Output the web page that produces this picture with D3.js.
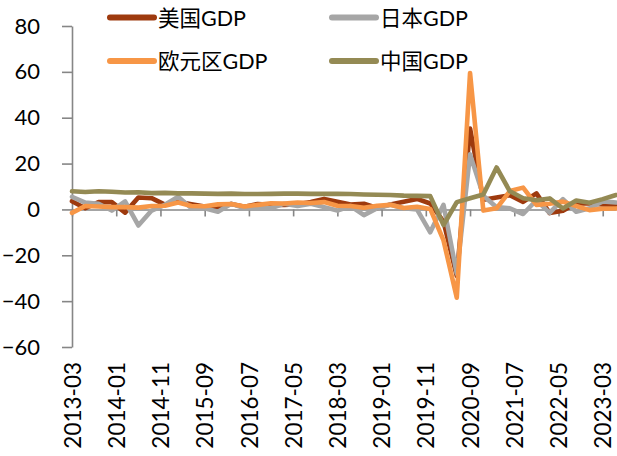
<!DOCTYPE html>
<html><head><meta charset="utf-8">
<script src="https://cdn.jsdelivr.net/npm/d3@7"></script>
<style>
html,body{margin:0;padding:0;background:#fff;overflow:hidden}
text{font-family:Lato,"Noto Sans CJK SC",sans-serif;fill:#000}
</style></head><body>
<svg id="c" width="617" height="456"></svg>
<script>
const dates = [
 "2013-03","2013-06","2013-09","2013-12","2014-03","2014-06","2014-09","2014-12",
 "2015-03","2015-06","2015-09","2015-12","2016-03","2016-06","2016-09","2016-12",
 "2017-03","2017-06","2017-09","2017-12","2018-03","2018-06","2018-09","2018-12",
 "2019-03","2019-06","2019-09","2019-12","2020-03","2020-06","2020-09","2020-12",
 "2021-03","2021-06","2021-09","2021-12","2022-03","2022-06","2022-09","2022-12",
 "2023-03","2023-06"];
const usGDP = [3.6,0.5,3.2,3.2, -1.4,5.2,4.9,2.1, 3.3,2.3,1.3,0.6, 2.4,1.2,2.4,2.0,
 2.0,2.3,3.2,4.6, 3.3,2.1,2.5,0.6, 2.2,3.4,4.6,2.6, -5.3,-29.0,35.3,4.2,
 5.2,6.2,3.3,7.0, -1.6,-0.6,2.7,2.6, 2.2,2.1];
const japanGDP = [5.5,3.0,2.5,-0.5, 3.5,-7.0,-0.5,2.0, 5.5,0.5,0.5,-1.0, 2.5,0.5,0.5,0.5,
 2.5,1.5,2.5,1.0, -0.5,1.5,-2.5,0.5, 2.0,0.5,0.0,-10.0, 2.0,-28.0,24.0,6.0,
 1.0,0.5,-2.0,4.0, -1.5,4.5,-1.0,0.5, 3.5,3.0];
const euroGDP = [-1.5,1.5,1.3,1.0, 1.0,0.8,1.5,1.6, 3.0,1.5,1.4,2.2, 2.4,1.3,2.0,2.7,
 2.6,3.0,2.8,3.2, 1.6,1.5,0.7,1.6, 2.0,0.6,1.2,0.2, -13.5,-38.5,59.5,-0.5,
 0.5,8.0,9.5,2.0, 2.5,3.4,1.5,-0.3, 0.3,0.4];
const chinaGDP = [7.9,7.6,7.9,7.7, 7.4,7.5,7.1,7.2, 7.0,7.0,6.9,6.8, 6.9,6.7,6.7,6.8,
 6.9,6.9,6.8,6.8, 6.8,6.7,6.5,6.4, 6.3,6.0,5.9,5.8, -6.8,3.2,4.9,6.5,
 18.3,7.9,4.9,4.0, 4.8,0.4,3.9,2.9, 4.5,6.3];
const seriesNames = ["美国GDP","日本GDP","欧元区GDP","中国GDP"];
const seriesColors = ["#9E3A0E","#A6A6A6","#F79646","#948A54"];
const xTickLabels = ["2013-03","2014-01","2014-11","2015-09","2016-07","2017-05","2018-03",
 "2019-01","2019-11","2020-09","2021-07","2022-05","2023-03"];
const yTicks = [-60,-40,-20,0,20,40,60,80];

const monthIdx = s => { const [y,m] = s.split("-").map(Number); return (y-2013)*12 + (m-3); };
const svg = d3.select("#c");
const x = d3.scaleLinear().domain([0,123]).range([72,616]);
const y = d3.scaleLinear().domain([-60,80]).range([347,26]);
const axisColor = "#868686";

// y axis
const ya = svg.append("g").attr("transform","translate(72,0)")
  .call(d3.axisLeft(y).tickValues(yTicks).tickSize(10).tickPadding(22).tickSizeOuter(0));
ya.select(".domain").attr("stroke",axisColor).attr("stroke-width",1.6);
ya.selectAll(".tick line").attr("stroke",axisColor).attr("stroke-width",1.6);
ya.selectAll(".tick text").attr("font-size",22).attr("font-family","Lato,sans-serif").attr("fill","#000");

// x axis ticks at zero
const xa = svg.append("g").attr("transform",`translate(0,${y(0)})`)
  .call(d3.axisBottom(x).tickValues(xTickLabels.map(monthIdx)).tickSize(7).tickFormat("").tickSizeOuter(0));
xa.select(".domain").attr("stroke",axisColor).attr("stroke-width",1.6);
xa.selectAll(".tick line").attr("stroke",axisColor).attr("stroke-width",1.6);

// x labels at bottom
const xl = svg.append("g").attr("transform","translate(0,362)")
  .call(d3.axisBottom(x).tickValues(xTickLabels.map(monthIdx)).tickSize(0)
    .tickFormat((d,i)=>xTickLabels[i]));
xl.select(".domain").remove();
xl.selectAll(".tick text").attr("font-size",22.5).attr("font-family","Lato,sans-serif")
  .attr("fill","#000").attr("text-anchor","end").attr("transform","rotate(-90)")
  .attr("x",0).attr("y",0).attr("dy","0.36em");

// lines
const allSeries = [usGDP,japanGDP,euroGDP,chinaGDP];
const line = d3.line().x((d,i)=>x(monthIdx(dates[i]))).y(d=>y(d));
allSeries.forEach((vals,k)=>{
  svg.append("path").datum(vals).attr("d",line).attr("fill","none")
    .attr("stroke",seriesColors[k]).attr("stroke-width",4.6)
    .attr("stroke-linejoin","round").attr("stroke-linecap","round");
});

// legend
const legPos = [[108,17.5],[330,17.5],[108,61],[330,61]];
seriesNames.forEach((n,k)=>{
  const [lx,ly] = legPos[k];
  svg.append("line").attr("x1",lx+2).attr("x2",lx+46).attr("y1",ly).attr("y2",ly)
    .attr("stroke",seriesColors[k]).attr("stroke-width",6).attr("stroke-linecap","round");
  svg.append("text").attr("x",lx+50).attr("y",ly+8).attr("font-size",21.5).text(n);
});
</script></body></html>
